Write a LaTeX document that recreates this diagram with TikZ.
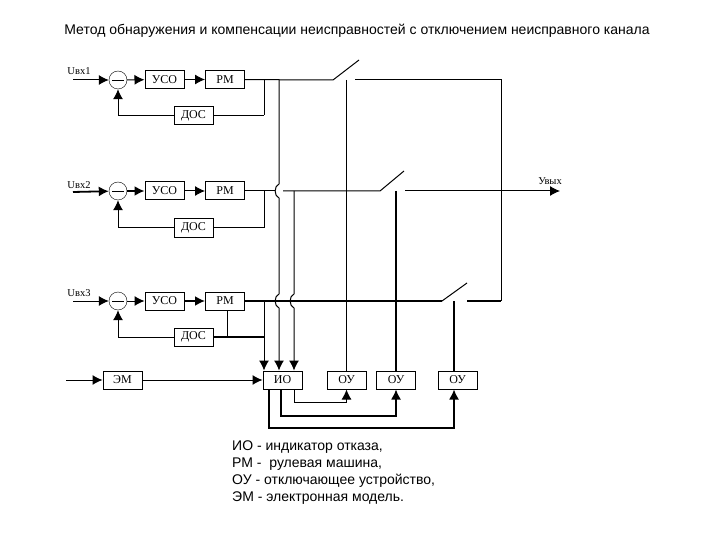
\documentclass[tikz,border=0pt]{standalone}
\usepackage{fontspec}
\setmainfont{Liberation Sans}
\newfontfamily\schemefont{Liberation Serif}
\usetikzlibrary{positioning, arrows.meta, calc}
\tikzset{
    block/.style={
        draw=black,
        fill=white,
        line width=1pt,
        minimum width=39pt,
        minimum height=18pt,
        inner sep=0pt,
        font=\schemefont\fontsize{12}{12}\selectfont
    },
    sumnode/.style={
        circle,
        draw=black,
        fill=white,
        inner sep=0pt,
        minimum size=18pt,
        path picture={\draw ([xshift=-6pt]path picture bounding box.center)--([xshift=6pt]path picture bounding box.center);}
    },
    signal/.style={
        font=\schemefont\fontsize{10.5}{10.5}\selectfont,
        inner sep=0pt
    },
    wire/.style={
        line width=1pt
    },
    thickwire/.style={
        line width=1.8pt
    },
    flow/.style={
        line width=1pt,
        -{Latex[length=10pt,width=10pt]}
    }
}
\begin{document}
\begin{tikzpicture}[x=1pt,y=-1pt]
      \useasboundingbox (0,0) rectangle (720,540);

      \node[font=\fontsize{14}{14}\selectfont,inner sep=0pt] (title) at (357,31) {Метод обнаружения и компенсации неисправностей с отключением неисправного канала};

      % channel 1
      \coordinate (in1) at (73,80);
      \node[signal] (lab1) at (79,71) {Uвх1};
      \node[sumnode] (sum1) at (118,80) {};
      \node[block] (uso1) at (164.5,79.5) {УСО};
      \node[block] (rm1) at (225,79.5) {РМ};
      \node[block] (dos1) at (193.5,115.5) {ДОС};

      % channel 2
      \coordinate (in2) at (73,192);
      \node[signal] (lab2) at (79,185) {Uвх2};
      \node[sumnode] (sum2) at (118,191) {};
      \node[block] (uso2) at (164.5,191) {УСО};
      \node[block] (rm2) at (225,191) {РМ};
      \node[block] (dos2) at (193.5,228) {ДОС};

      % channel 3
      \coordinate (in3) at (73,301);
      \node[signal] (lab3) at (79,293) {Uвх3};
      \node[sumnode] (sum3) at (118,301) {};
      \node[block] (uso3) at (164.5,301) {УСО};
      \node[block] (rm3) at (225,301) {РМ};
      \node[block] (dos3) at (193.5,337) {ДОС};

      % bottom row
      \coordinate (inem) at (66,380);
      \node[block] (em) at (122.5,380) {ЭМ};
      \node[block] (io) at (282.5,380) {ИО};
      \node[block] (ou1) at (346.5,380) {ОУ};
      \node[block] (ou2) at (396,380) {ОУ};
      \node[block] (ou3) at (457.5,380) {ОУ};

      % junctions
      \coordinate (n1) at (264,80);
      \coordinate (n2) at (264,191);
      \coordinate (n3) at (264,301);
      \coordinate (a1) at (279,80);
      \coordinate (a2) at (294,191);
      \coordinate (h1) at (279,184);
      \coordinate (h2) at (279,198);
      \coordinate (h3) at (279,294);
      \coordinate (h4) at (279,308);
      \coordinate (h5) at (294,294);
      \coordinate (h6) at (294,308);
      \coordinate (g1) at (275,191);
      \coordinate (g2) at (283,191);
      \coordinate (t3) at (227,337);
      \coordinate (bus) at (501,301);
      \coordinate (bustop) at (501,80);
      \coordinate (out) at (560,191);
      \node[signal,above=6pt of out,xshift=-10pt] (labout) {Увых};

      % switches
      \coordinate (s1a) at (333,80);
      \coordinate (s1b) at (359,60);
      \coordinate (s1c) at (355,80);
      \coordinate (s1d) at (346.5,80);
      \coordinate (s2a) at (380,191);
      \coordinate (s2b) at (404,171);
      \coordinate (s2c) at (405,191);
      \coordinate (s2d) at (396,191);
      \coordinate (s3a) at (442,301);
      \coordinate (s3b) at (467,283);
      \coordinate (s3c) at (467,301);
      \coordinate (s3d) at (454,301);

      % forward paths
      \draw[flow] (in1)--(sum1);
      \draw[flow] (sum1)--(uso1);
      \draw[flow] (uso1)--(rm1);
      \draw[flow,line width=1.8pt] (in2)--(sum2);
      \draw[flow,line width=1.8pt] (sum2)--(uso2);
      \draw[flow] (uso2)--(rm2);
      \draw[flow] (in3)--(sum3);
      \draw[flow] (sum3)--(uso3);
      \draw[flow,line width=1.8pt] (uso3)--(rm3);
      \draw[flow] (inem)--(em);
      \draw[flow] (em)--(io);

      % feedback
      \draw[flow] (dos1)-|(sum1);
      \draw[flow] (dos2)-|(sum2);
      \draw[flow] (dos3)-|(sum3);
      \draw[thickwire] (dos1)--(dos1-|n1);
      \draw[wire] (dos2)-|(n2);
      \draw[thickwire] (dos3)--(dos3-|n3);
      \draw[wire] (n1)--(n1|-dos1);
      \draw[wire] (t3)--(t3|-rm3.south);

      % outputs and switches
      \draw[wire] (rm1)--(s1a)--(s1b);
      \draw[wire] (rm2)--(g1);
      \draw[wire] (g2)--(s2a)--(s2b);
      \draw[thickwire] (rm3)--(s3a);
      \draw[wire] (s3a)--(s3b);
      \draw[wire] (s1c)--(bustop)--(bus);
      \draw[thickwire] (s3c)--(bus);
      \draw[flow] (s2c)--(out);

      % lines to the indicator, with hops
      \draw[flow] (a1)--(h1) to[bend right=70] (h2)--(h3) to[bend right=70] (h4)--(h4|-io.north);
      \draw[flow] (a2)--(h5) to[bend right=70] (h6)--(h6|-io.north);
      \draw[flow] (n3)--(n3|-io.north);

      % lines to the switching units
      \draw[wire] (s1d)--(ou1);
      \draw[thickwire] (s2d)--(ou2);
      \draw[thickwire] (s3d)--(s3d|-ou3.north);

      % indicator to switching units
      \coordinate (b1) at (294,402);
      \coordinate (b2) at (281,416);
      \coordinate (b3) at (269,428);
      \draw[flow] (b1|-io.south)--(b1)-|(ou1.south);
      \draw[flow,line width=1.5pt] (b2|-io.south)--(b2)-|(ou2.south);
      \draw[flow,line width=1.5pt] (b3|-io.south)--(b3)-|(s3d|-ou3.south);

      % legend
      \node[anchor=north west,align=left,inner sep=0pt,font=\fontsize{14}{17}\selectfont] (legend) at (232,441) {ИО - индикатор отказа,\\РМ -\ \ рулевая машина,\\ОУ - отключающее устройство,\\ЭМ - электронная модель.};

    \end{tikzpicture}
\end{document}
